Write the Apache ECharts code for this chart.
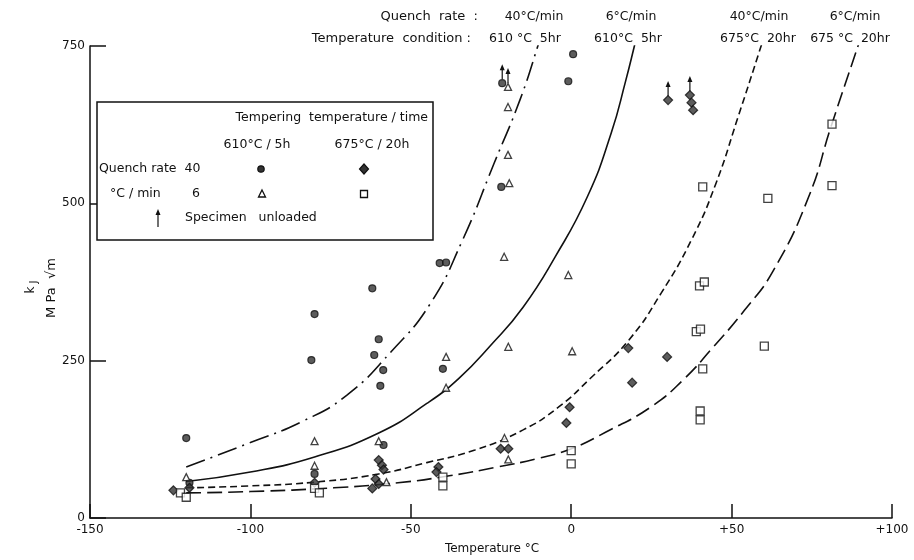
<!DOCTYPE html>
<html>
<head>
<meta charset="utf-8">
<script src="https://cdn.jsdelivr.net/npm/echarts@6/dist/echarts.min.js"></script>
<style>
html,body{margin:0;padding:0;background:#fff;}
#chart{width:914px;height:560px;}
</style>
</head>
<body>
<div id="chart"></div>
<script>
// Axis ranges and ticks
const xTicks = [-150, -100, -50, 0, 50, 100];
const yTicks = [0, 250, 500, 750];

// Measured k_J values [temperature °C, MPa√m]
// Quench rate 40 °C/min, tempered 610 °C / 5 h
const q40t610 = [[-120,127],[-119,56],[-80,324],[-81,251],[-80,70],[-62,365],[-60,284],[-61.4,259],
  [-58.6,235],[-59.5,210],[-58.5,116],[-41,405],[-39,406],[-40,237],[0.6,737],[-0.9,694],
  [-21.5,691],[-21.8,526]];
// Quench rate 40 °C/min, tempered 675 °C / 20 h
const q40t675 = [[-124,44],[-119,48],[-80,56],[-60,92],[-59,84],[-58.5,77],[-61,62],[-60,54],[-62,47],
  [-41.4,81],[-42,73],[-22,110],[-19.6,110],[-0.5,176],[-1.5,151],[17.8,270],[19,215],[29.9,256],
  [30.2,664],[37,672],[37.5,660],[38,648]];
// Quench rate 6 °C/min, tempered 610 °C / 5 h
const q6t610 = [[-120,65],[-80,122],[-80,83],[-60,122],[-57.6,57],[-39,256],[-39,207],[-20.8,127],
  [-19.6,93],[-19.7,685],[-19.7,653],[-19.7,577],[-19.3,532],[-20.9,415],[-19.6,272],[-0.9,386],[0.3,265]];
// Quench rate 6 °C/min, tempered 675 °C / 20 h
const q6t675 = [[-121.8,40],[-120,33],[-80,47],[-78.5,40],[-40,65],[-40,51],[0,107],[0,86],[40,369],
  [41.5,375],[39,296],[40.3,300],[41,237],[40.2,170],[40.2,156],[41,526],[61.3,508],[81.3,528],
  [60.2,273],[81.3,626]];
// Specimens unloaded before fracture
const unloaded = [[-21.5,691],[-19.7,685],[30.2,664],[37,672]];

// Transition curves (the last point of each lies above the axis top and is clipped)
const curveQ40T610 = [[-120,81],[-100,120],[-84,153],[-70,195],[-56,265],[-44,340],
  [-34,440],[-24,564],[-16,664],[-10.4,750],[-8,792]];
const curveQ6T610 = [[-120,58],[-100,73],[-80,97],[-60,135],[-45,182],[-35,222],[-25,275],
  [-15,335],[-5,415],[5,510],[12.5,612],[17,695],[19.7,750],[21,778]];
const curveQ40T675 = [[-120,48],[-100,51],[-80,57],[-60,70],[-45,88],[-30,108],[-15,140],
  [-4,176],[6,222],[18,283],[28,357],[37.5,442],[45,530],[52,637],[59.2,750],[61,780]];
const curveQ6T675 = [[-120,40],[-100,42],[-74,48],[-54,56],[-38,67],[-23,81],[-10,95],[0,110],
  [11,137],[25,177],[35,220],[44,270],[54,330],[63,393],[74,510],[81,622],[89.4,750],[91,775]];

const INK = '#111';
const FONT = 'DejaVu Sans';

const chart = echarts.init(document.getElementById('chart'), null, {renderer: 'canvas'});

function curve(data, type, width) {
  return {
    type: 'line', data: data, smooth: 0.5, symbol: 'none', clip: true,
    lineStyle: {color: INK, width: width, type: type}, z: 2, silent: true
  };
}

function txt(x, y, s, align, size) {
  return {type: 'text', x: x, y: y, silent: true,
    style: {text: s, fill: INK, font: (size || 12) + 'px "' + FONT + '"',
      textAlign: align || 'left', textVerticalAlign: 'middle'}};
}

const legendGraphics = [
  {type: 'rect', shape: {x: 97, y: 102, width: 336, height: 138},
   style: {fill: '#fff', stroke: INK, lineWidth: 1.5}, z: 10},
  txt(428, 118, 'Tempering  temperature / time', 'right', 12.5),
  txt(257, 145, '610°C / 5h', 'center', 12.5),
  txt(372, 145, '675°C / 20h', 'center', 12.5),
  txt(99, 169, 'Quench rate  40', 'left', 12.5),
  txt(110, 194, '°C / min', 'left', 12.5),
  txt(196, 194, '6', 'center', 12.5),
  txt(185, 218, 'Specimen   unloaded', 'left', 12.5),
  {type: 'circle', shape: {cx: 261, cy: 169, r: 3.2}, style: {fill: '#333', stroke: INK, lineWidth: 1.2}},
  {type: 'polygon', shape: {points: [[364,164],[368.5,169],[364,174],[359.5,169]]}, style: {fill: '#333', stroke: INK, lineWidth: 1.2}},
  {type: 'polygon', shape: {points: [[262,190],[265.5,197],[258.5,197]]}, style: {fill: '#fff', stroke: INK, lineWidth: 1.3}},
  {type: 'rect', shape: {x: 360.5, y: 190.5, width: 7, height: 7}, style: {fill: '#fff', stroke: INK, lineWidth: 1.3}},
  {type: 'line', shape: {x1: 158, y1: 227, x2: 158, y2: 213}, style: {stroke: INK, lineWidth: 1.2}},
  {type: 'polygon', shape: {points: [[158,209],[155.5,215],[160.5,215]]}, style: {fill: INK}}
].map(g => Object.assign({}, g, {z: g.z || 11}));

const headerGraphics = [
  txt(478, 17, 'Quench  rate  :', 'right', 13),
  txt(534, 17, '40°C/min', 'center', 12.5),
  txt(631, 17, '6°C/min', 'center', 12.5),
  txt(759, 17, '40°C/min', 'center', 12.5),
  txt(855, 17, '6°C/min', 'center', 12.5),
  txt(471, 39, 'Temperature  condition :', 'right', 13),
  txt(525, 39, '610 °C  5hr', 'center', 12.5),
  txt(628, 39, '610°C  5hr', 'center', 12.5),
  txt(758, 39, '675°C  20hr', 'center', 12.5),
  txt(850, 39, '675 °C  20hr', 'center', 12.5),
  txt(492, 549, 'Temperature °C', 'center'),
  {type: 'text', x: 31, y: 287, rotation: Math.PI / 2, silent: true,
   style: {text: '{k|k}{j| J}', textAlign: 'center', textVerticalAlign: 'middle',
     rich: {k: {fontSize: 12, fontFamily: FONT, fill: INK},
            j: {fontSize: 10, fontFamily: FONT, fill: INK, padding: [6, 0, 0, 0]}}}},
  {type: 'text', x: 52, y: 288, rotation: Math.PI / 2, silent: true,
   style: {text: 'M Pa  √m', fill: INK, font: '13px "' + FONT + '"', textAlign: 'center', textVerticalAlign: 'middle'}}
];

const option = {
  backgroundColor: '#fff',
  animation: false,
  grid: {left: 90, right: 22, top: 46, bottom: 42, containLabel: false, outerBoundsMode: 'none'},
  xAxis: {
    type: 'value', min: xTicks[0], max: xTicks[xTicks.length - 1], interval: 50,
    axisLine: {show: true, onZero: false, lineStyle: {color: INK, width: 1.5}},
    axisTick: {show: true, inside: true, length: 14, lineStyle: {color: INK, width: 1.5}},
    axisLabel: {color: INK, fontSize: 12, fontFamily: FONT, margin: 6,
      formatter: v => (v > 0 ? '+' + v : String(v))},
    splitLine: {show: false}
  },
  yAxis: {
    type: 'value', min: yTicks[0], max: yTicks[yTicks.length - 1], interval: 250,
    axisLine: {show: true, onZero: false, lineStyle: {color: INK, width: 1.5}},
    axisTick: {show: true, inside: true, length: 16, lineStyle: {color: INK, width: 1.5}},
    axisLabel: {color: INK, fontSize: 12, fontFamily: FONT, margin: 5},
    splitLine: {show: false}
  },
  series: [
    curve(curveQ40T610, [20, 6, 2, 6], 1.6),
    curve(curveQ6T610, 'solid', 1.6),
    curve(curveQ40T675, [7, 4], 1.6),
    curve(curveQ6T675, [15, 6], 1.6),
    {type: 'scatter', data: q40t610, symbol: 'circle', symbolSize: 7,
     itemStyle: {color: '#333', borderColor: INK, borderWidth: 1.2}, z: 4},
    {type: 'scatter', data: q40t675, symbol: 'diamond', symbolSize: 9,
     itemStyle: {color: '#333', borderColor: INK, borderWidth: 1.2}, z: 4},
    {type: 'scatter', data: q6t610, symbol: 'triangle', symbolSize: 7,
     itemStyle: {color: '#fff', borderColor: INK, borderWidth: 1.3}, z: 5},
    {type: 'scatter', data: q6t675, symbol: 'rect', symbolSize: 8,
     itemStyle: {color: '#fff', borderColor: INK, borderWidth: 1.3}, z: 5},
    {type: 'custom', data: unloaded, encode: {x: 0, y: 1}, z: 6,
     renderItem: function (params, api) {
       const p = api.coord([api.value(0), api.value(1)]);
       const top = p[1] - 19;
       return {type: 'group', children: [
         {type: 'line', shape: {x1: p[0], y1: p[1] - 4, x2: p[0], y2: top + 4},
          style: {stroke: INK, lineWidth: 1.2}},
         {type: 'polygon', shape: {points: [[p[0], top], [p[0] - 2.5, top + 6], [p[0] + 2.5, top + 6]]},
          style: {fill: INK}}
       ]};
     }}
  ],
  graphic: headerGraphics.concat(legendGraphics)
};

chart.setOption(option);
</script>
</body>
</html>
